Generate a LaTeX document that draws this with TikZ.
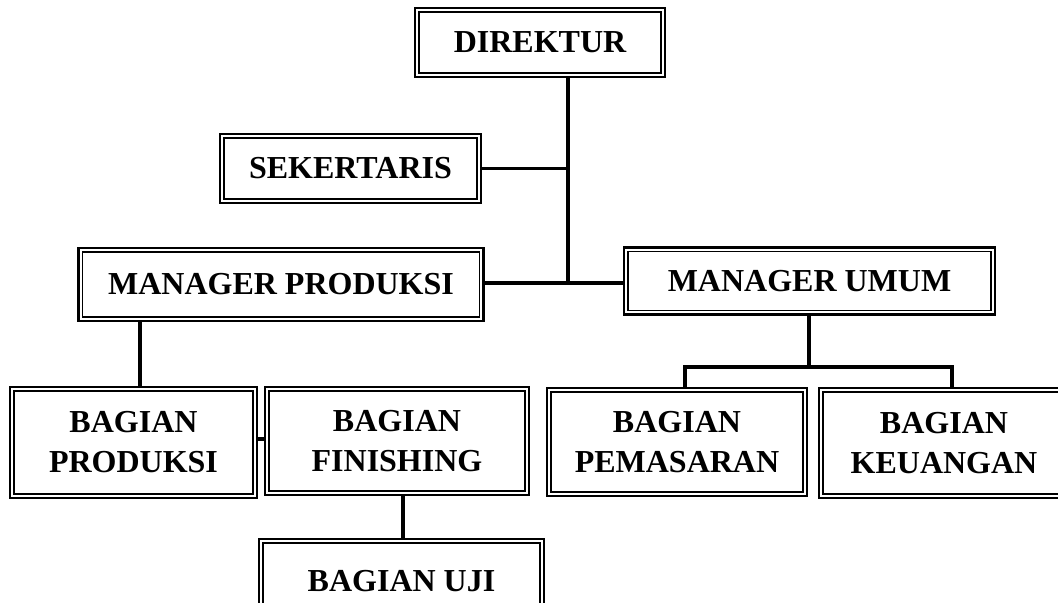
\documentclass[tikz,border=0pt]{standalone}
\usepackage{fontspec}
\setmainfont{Liberation Serif}
\begin{document}
\begin{tikzpicture}[x=0.75pt,y=-0.75pt,
  box/.style 2 args={draw, line width=1.8pt, fill=white, inner sep=0pt, outer sep=0pt,
    minimum width=#1*0.75pt, minimum height=#2*0.75pt, align=center,
    font=\fontsize{24}{30}\selectfont\bfseries,
    path picture={\draw[line width=1pt]
      ([shift={(3.1pt,3.1pt)}]path picture bounding box.south west) rectangle
      ([shift={(-3.1pt,-3.1pt)}]path picture bounding box.north east);}},
  conn/.style={line width=2.3pt}]
\useasboundingbox (0,0) rectangle (1058,603);
\begin{scope}
\clip (0,0) rectangle (1058,603);
% coordinates for connector routing
\coordinate (j1) at (568,283);
\coordinate (c1) at (140,0);
\coordinate (c2) at (0,439);
\coordinate (c3) at (403,0);
\coordinate (c4) at (809,367);
\coordinate (c5) at (685,0);
\coordinate (c6) at (952,0);
% nodes
\node[box={250}{69}] (dir) at (540,42.5) {DIREKTUR};
\node[box={261}{69}] (sek) at (350.5,168.5) {SEKERTARIS};
\node[box={405}{73}] (mp) at (281,284.5) {MANAGER PRODUKSI};
\node[box={371}{67}] (mu) at (809.5,281) {MANAGER UMUM};
\node[box={247}{111}] (bp) at (133.5,442.5) {BAGIAN\\PRODUKSI};
\node[box={264}{108}] (bf) at (397,441) {BAGIAN\\FINISHING};
\node[box={285}{84}] (bu) at (401.5,581) {BAGIAN UJI};
\node[box={260}{108}] (bpem) at (677,442) {BAGIAN\\PEMASARAN};
\node[box={250}{110}] (bk) at (944,443) {BAGIAN\\KEUANGAN};
% connectors
\draw[conn] (dir.south -| j1) -- (j1);
\draw[conn] (sek.east) -- (sek.east -| j1);
\draw[conn] (mp.east |- j1) -- (mu.west |- j1);
\draw[conn] (mp.south -| c1) -- (bp.north -| c1);
\draw[conn] (bp.east |- c2) -- (bf.west |- c2);
\draw[conn] (bf.south -| c3) -- (bu.north -| c3);
\draw[conn] (mu.south -| c4) -- (c4);
\draw[conn] (bpem.north -| c5) -- (c5 |- c4) -- (c6 |- c4) -- (bk.north -| c6);
\end{scope}
\end{tikzpicture}
\end{document}
